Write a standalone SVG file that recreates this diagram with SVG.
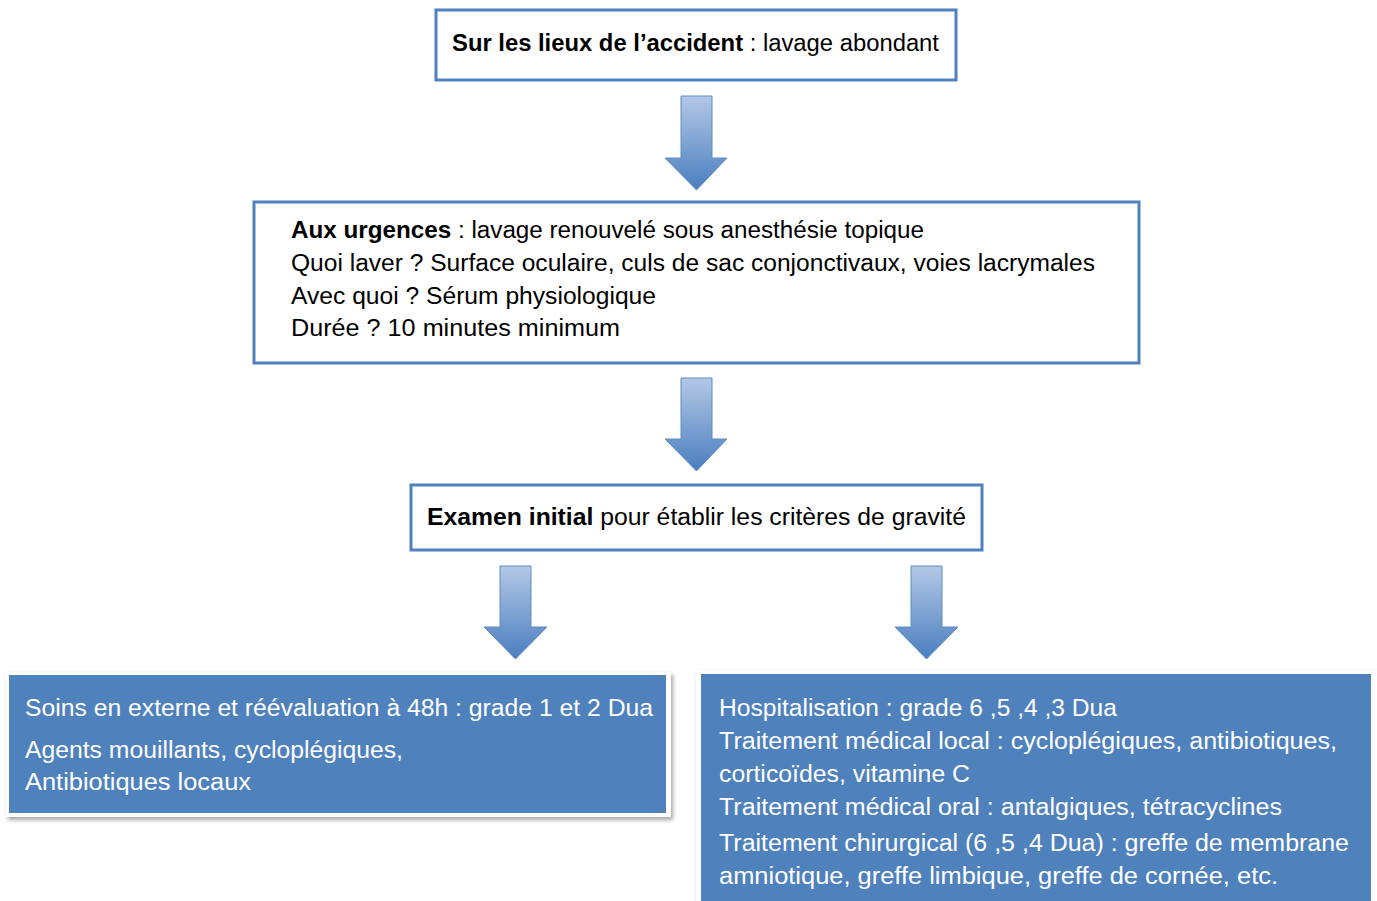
<svg xmlns="http://www.w3.org/2000/svg" width="1377" height="901" viewBox="0 0 1377 901">
<defs>
<linearGradient id="ag" x1="0" y1="0" x2="0" y2="1">
<stop offset="0" stop-color="#B3C8E6"/>
<stop offset="1" stop-color="#4A7EBF"/>
</linearGradient>
<filter id="sh" x="-5%" y="-5%" width="110%" height="115%">
<feDropShadow dx="2" dy="3" stdDeviation="2" flood-color="#000" flood-opacity="0.35"/>
</filter>
<style>
.bx{fill:#fff;stroke:#4F81BD;stroke-width:3}
.t{font-family:"Liberation Sans",Arial,sans-serif;font-size:23px;fill:#000}
.w{font-family:"Liberation Sans",Arial,sans-serif;font-size:23px;fill:#fff}
.b{font-weight:bold}
.ar{fill:url(#ag);stroke:#5E8CC6;stroke-width:1}
.blue{fill:#4F81BD}
</style>
</defs>
<g id="connectors">
<path class="ar" d="M681,96 H712 V158 H727 L696.5,190 L665,158 H681 Z"/>
<path class="ar" d="M681,378 H712 V439 H727 L696.5,471 L665,439 H681 Z"/>
<path class="ar" d="M500,566 H531 V627 H547 L515.5,659 L484,627 H500 Z"/>
<path class="ar" d="M911,566 H942 V627 H958 L926.5,659 L895,627 H911 Z"/>
</g>
<g id="n1">
<rect class="bx" x="436" y="10" width="520" height="70"/>
<text class="t" x="452" y="51" textLength="487" lengthAdjust="spacingAndGlyphs"><tspan class="b">Sur les lieux de l’accident</tspan> : lavage abondant</text>
</g>
<g id="n2">
<rect class="bx" x="254" y="202" width="885" height="161"/>
<text class="t" x="291" y="238" textLength="633" lengthAdjust="spacingAndGlyphs"><tspan class="b">Aux urgences</tspan> : lavage renouvelé sous anesthésie topique</text>
<text class="t" x="291" y="271" textLength="804" lengthAdjust="spacingAndGlyphs">Quoi laver ? Surface oculaire, culs de sac conjonctivaux, voies lacrymales</text>
<text class="t" x="291" y="304" textLength="365" lengthAdjust="spacingAndGlyphs">Avec quoi ? Sérum physiologique</text>
<text class="t" x="291" y="336" textLength="329" lengthAdjust="spacingAndGlyphs">Durée ? 10 minutes minimum</text>
</g>
<g id="n3">
<rect class="bx" x="411" y="485" width="571" height="65"/>
<text class="t" x="427" y="525" textLength="539" lengthAdjust="spacingAndGlyphs"><tspan class="b">Examen initial</tspan> pour établir les critères de gravité</text>
</g>
<g id="n4">
<rect x="6" y="672" width="665" height="145" fill="#fff" filter="url(#sh)"/>
<rect class="blue" x="9" y="675" width="657" height="138"/>
<text class="w" x="25" y="716" textLength="628" lengthAdjust="spacingAndGlyphs">Soins en externe et réévaluation à 48h : grade 1 et 2 Dua</text>
<text class="w" x="25" y="758" textLength="378" lengthAdjust="spacingAndGlyphs">Agents mouillants, cycloplégiques,</text>
<text class="w" x="25" y="790" textLength="226" lengthAdjust="spacingAndGlyphs">Antibiotiques locaux</text>
</g>
<g id="n5">
<rect x="696" y="670" width="681" height="240" fill="#fff" filter="url(#sh)"/>
<rect class="blue" x="701" y="674" width="670" height="230"/>
<text class="w" x="719" y="716" textLength="398" lengthAdjust="spacingAndGlyphs">Hospitalisation : grade 6 ,5 ,4 ,3 Dua</text>
<text class="w" x="719" y="749" textLength="618" lengthAdjust="spacingAndGlyphs">Traitement médical local : cycloplégiques, antibiotiques,</text>
<text class="w" x="719" y="782" textLength="251" lengthAdjust="spacingAndGlyphs">corticoïdes, vitamine C</text>
<text class="w" x="719" y="815" textLength="563" lengthAdjust="spacingAndGlyphs">Traitement médical oral : antalgiques, tétracyclines</text>
<text class="w" x="719" y="851" textLength="630" lengthAdjust="spacingAndGlyphs">Traitement chirurgical (6 ,5 ,4 Dua) : greffe de membrane</text>
<text class="w" x="719" y="884" textLength="559" lengthAdjust="spacingAndGlyphs">amniotique, greffe limbique, greffe de cornée, etc.</text>
</g>
</svg>
